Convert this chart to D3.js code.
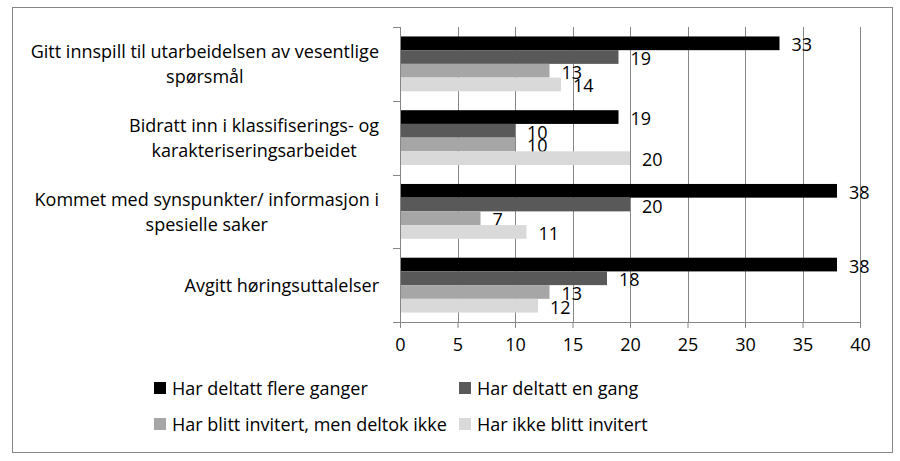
<!DOCTYPE html>
<html><head><meta charset="utf-8">
<script src="https://cdn.jsdelivr.net/npm/d3@7"></script>
<style>
html,body{margin:0;padding:0;background:#fff;}
text{font-family:"Open Sans",sans-serif;}
</style></head>
<body>
<svg id="c" width="900" height="461"></svg>
<script>
const categories = [
  ["Gitt innspill til utarbeidelsen av vesentlige","spørsmål"],
  ["Bidratt inn i klassifiserings- og","karakteriseringsarbeidet"],
  ["Kommet med synspunkter/ informasjon i","spesielle saker"],
  ["Avgitt høringsuttalelser"]
];
const seriesNames = ["Har deltatt flere ganger","Har deltatt en gang","Har blitt invitert, men deltok ikke","Har ikke blitt invitert"];
const flereGanger = [33,19,38,38];
const enGang = [19,10,20,18];
const invitertIkke = [13,10,7,13];
const ikkeInvitert = [14,20,11,12];
const xTicks = [0,5,10,15,20,25,30,35,40];
const colors = ["#000000","#595959","#a6a6a6","#d9d9d9"];

const seriesValues = [flereGanger, enGang, invitertIkke, ikkeInvitert];
const svg = d3.select("#c");
const grid = "#868686";

// fit font size so the longest category line matches the reference width
const probe = svg.append("text").attr("font-size",16).text(categories[0][0]);
const FS = Math.min(18, 16*353/probe.node().getComputedTextLength());
probe.remove();

svg.append("rect").attr("x",12.5).attr("y",7.5).attr("width",880).attr("height",445)
  .attr("fill","#fff").attr("stroke",grid).attr("stroke-width",1);

const x = d3.scaleLinear().domain([0,40]).range([400,860]);
const y = d3.scaleBand().domain(d3.range(categories.length)).range([27,322]);
const yi = d3.scaleBand().domain(d3.range(seriesNames.length)).range([0,y.bandwidth()]).paddingInner(0).paddingOuter(0.69);

// gridlines
svg.append("g").selectAll("line").data(xTicks.filter(t=>t>0)).join("line")
  .attr("x1",d=>Math.round(x(d))+0.5).attr("x2",d=>Math.round(x(d))+0.5)
  .attr("y1",27).attr("y2",322).attr("stroke",grid);

// bars
const bars = svg.append("g");
seriesValues.forEach((vals,si)=>{
  bars.selectAll(null).data(vals).join("rect")
    .attr("x",x(0)).attr("y",(d,ci)=>y(ci)+yi(si))
    .attr("width",d=>x(d)-x(0)).attr("height",yi.bandwidth())
    .attr("fill",colors[si]);
  bars.selectAll(null).data(vals).join("text")
    .attr("x",d=>x(d)+12).attr("y",(d,ci)=>y(ci)+yi(si)+yi.bandwidth()/2+1)
    .attr("dominant-baseline","central").attr("font-size",FS).attr("fill","#000")
    .text(d=>d);
});

// x axis
const xAxis = svg.append("g").attr("transform","translate(0,322)")
  .call(d3.axisBottom(x).tickValues(xTicks).tickSize(6).tickPadding(10).tickSizeOuter(0));
xAxis.select(".domain").attr("stroke",grid).attr("d","M393.5,0.5H860.5");
xAxis.selectAll(".tick line").attr("stroke",grid);
xAxis.selectAll(".tick text").attr("font-size",FS).attr("fill","#000").attr("font-family","'Open Sans',sans-serif");

// y axis
const yg = svg.append("g");
yg.append("line").attr("x1",400.5).attr("x2",400.5).attr("y1",27).attr("y2",322).attr("stroke",grid);
yg.selectAll(".yt").data(d3.range(categories.length+1)).join("line")
  .attr("x1",393).attr("x2",400)
  .attr("y1",d=>Math.round(27+d*y.step())+0.5).attr("y2",d=>Math.round(27+d*y.step())+0.5)
  .attr("stroke",grid);

// category labels: block right-aligned, lines centered within block
categories.forEach((lines,ci)=>{
  const g = svg.append("g");
  const cy = y(ci)+y.bandwidth()/2;
  const lh = 25;
  const ts = lines.map((l,li)=>g.append("text").attr("font-size",FS).attr("fill","#000")
    .attr("dominant-baseline","central").attr("text-anchor","middle")
    .attr("y",cy+(li-(lines.length-1)/2)*lh).text(l));
  const w = d3.max(ts,t=>t.node().getComputedTextLength());
  ts.forEach(t=>t.attr("x",379-w/2));
});

// legend
const legPos = [[154,388],[459,388],[154,424],[459,424]];
seriesNames.forEach((n,i)=>{
  const [lx,ly]=legPos[i];
  svg.append("rect").attr("x",lx).attr("y",ly-6).attr("width",12).attr("height",12).attr("fill",colors[i]);
  svg.append("text").attr("x",lx+18).attr("y",ly).attr("dominant-baseline","central")
    .attr("font-size",FS).attr("fill","#000").text(n);
});
</script>
</body></html>
